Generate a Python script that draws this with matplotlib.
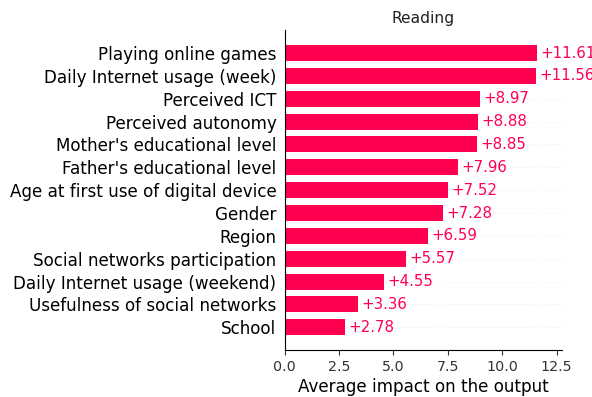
import matplotlib
matplotlib.use("Agg")
import matplotlib.pyplot as plt
import numpy as np

features = [
    "Playing online games", "Daily Internet usage (week)", "Perceived ICT",
    "Perceived autonomy", "Mother's educational level", "Father's educational level",
    "Age at first use of digital device", "Gender", "Region",
    "Social networks participation", "Daily Internet usage (weekend)",
    "Usefulness of social networks", "School",
]
impact = [11.61, 11.56, 8.97, 8.88, 8.85, 7.96, 7.52, 7.28, 6.59, 5.57, 4.55, 3.36, 2.78]

RED = "#ff0051"
s = 0.93  # scale of shap's default font sizes

fig = plt.figure(figsize=(5.92, 3.97), dpi=100)
ax = fig.add_axes([0.481, 0.118, 0.468, 0.806])

y = np.arange(len(features))
ax.barh(y, impact, 0.7, color=RED, align="center")
for yi, v in zip(y, impact):
    ax.axhline(yi, color="#cccccc", lw=0.5, dashes=(1, 5), zorder=-1)
    # the widest labels run off the right edge, as in the original figure
    ax.text(v + 0.15, yi, f"+{v:.2f}", color=RED, va="center", ha="left",
            fontsize=12 * 0.9, clip_on=False)

ax.set_yticks(y)
ax.set_yticklabels(features, fontsize=13 * s)
ax.set_ylim(len(features), -1)
ax.set_xlim(0, 12.74)
ax.set_xticks([0, 2.5, 5, 7.5, 10, 12.5])
ax.xaxis.set_major_formatter(matplotlib.ticker.FormatStrFormatter("%.1f"))
ax.tick_params(axis="x", labelsize=11 * s, colors="#333333")
ax.tick_params(axis="y", length=0, pad=6, labelcolor="#000000")
ax.spines["right"].set_visible(False)
ax.spines["top"].set_visible(False)
ax.set_xlabel("Average impact on the output", fontsize=13 * s, labelpad=3)
ax.set_title("Reading", fontsize=12 * s, color="#222222", pad=5)

fig.savefig("out.png", dpi=100)
